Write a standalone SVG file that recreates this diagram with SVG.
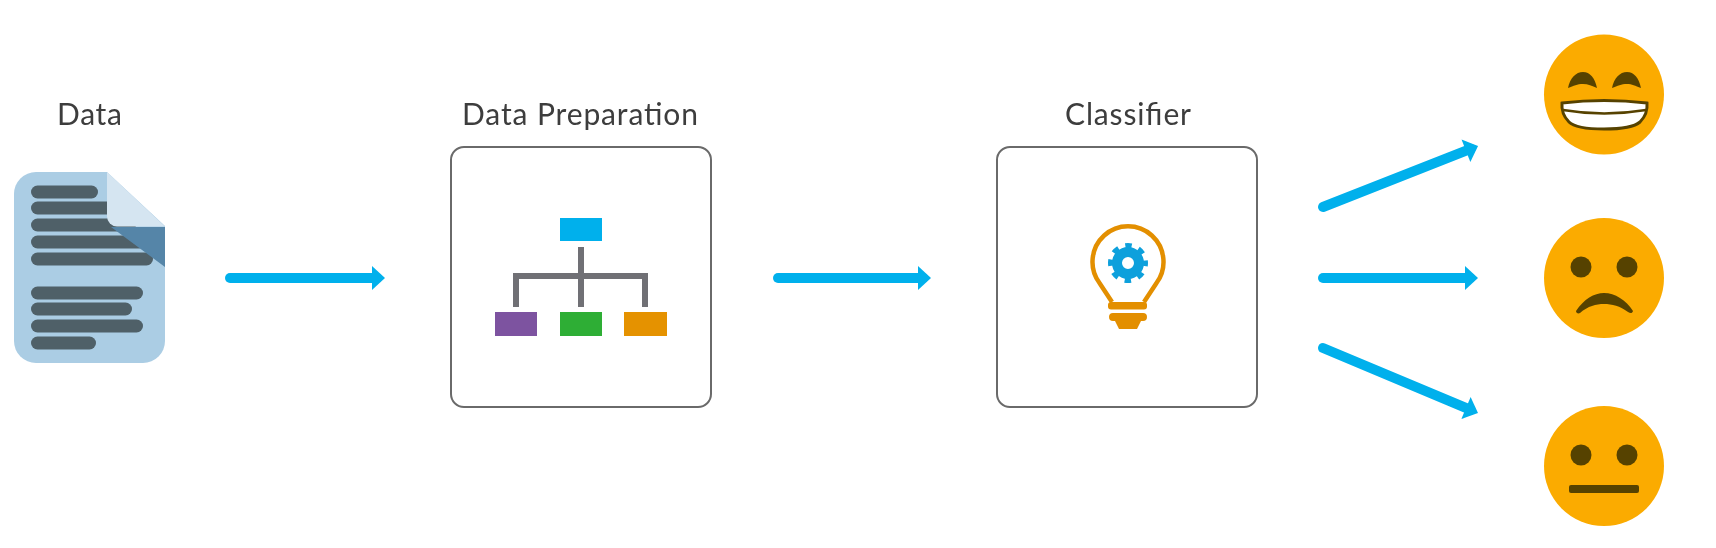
<svg xmlns="http://www.w3.org/2000/svg" width="1716" height="548" viewBox="0 0 1716 548">
<style>
.label{font-family:"Lato","Liberation Sans",sans-serif;font-size:30px;fill:#3d3d3d;text-anchor:middle}
.box{fill:#fff;stroke:#6a6a6a;stroke-width:2}
.line{fill:#4f6068}
.tree{stroke:#6f7074;stroke-width:6;fill:none}
.face{fill:#fbab00}
.feat{fill:#574300}
.conn{stroke:#00b0ec;stroke-width:10;stroke-linecap:round;fill:none;marker-end:url(#head)}
</style>
<defs>
<marker id="head" markerUnits="userSpaceOnUse" markerWidth="16" markerHeight="28" refX="5" refY="14" orient="auto" viewBox="0 0 16 28" overflow="visible"><polygon points="0,2 13,14 0,26" fill="#00b0ec"/></marker>
<filter id="soft" x="0" y="0" width="100%" height="100%"><feGaussianBlur stdDeviation="0.5"/></filter>
</defs>
<rect width="1716" height="548" fill="#fff"/>
<g filter="url(#soft)">
<g id="node-data">
<text class="label" x="89.500" y="125" textLength="65" lengthAdjust="spacing">Data</text>
<path d="M36,172H107L165,226V341a22,22 0 0 1-22,22H36a22,22 0 0 1-22-22V194a22,22 0 0 1 22-22Z" fill="#abcde4"/>
<rect class="line" x="31" y="185.500" width="67" height="13" rx="6.500"/>
<rect class="line" x="31" y="201.500" width="85" height="13" rx="6.500"/>
<rect class="line" x="31" y="218.500" width="105" height="13" rx="6.500"/>
<rect class="line" x="31" y="235.500" width="115" height="13" rx="6.500"/>
<rect class="line" x="31" y="252.500" width="122" height="13" rx="6.500"/>
<rect class="line" x="31" y="286.500" width="112" height="13" rx="6.500"/>
<rect class="line" x="31" y="302.500" width="101" height="13" rx="6.500"/>
<rect class="line" x="31" y="319.500" width="112" height="13" rx="6.500"/>
<rect class="line" x="31" y="336.500" width="65" height="13" rx="6.500"/>
<path d="M111,227H165V267Z" fill="#5585a8"/>
<path d="M107,172L165,226.500H117a10,10 0 0 1-10-10Z" fill="#d5e5f1"/>
</g>
<g id="node-preparation">
<text class="label" x="580" y="125" textLength="236" lengthAdjust="spacing">Data Preparation</text>
<rect class="box" x="451" y="147" width="260" height="260" rx="13"/>
<rect x="560" y="218" width="42" height="23" fill="#00b0ec"/>
<path class="tree" d="M581,247V307M516,307V276H645V307"/>
<rect x="495" y="312" width="42" height="24" fill="#7d52a0"/>
<rect x="560" y="312" width="42" height="24" fill="#2fae36"/>
<rect x="624" y="312" width="43" height="24" fill="#e59200"/>
</g>
<g id="node-classifier">
<text class="label" x="1128" y="125" textLength="126" lengthAdjust="spacing">Classifier</text>
<rect class="box" x="997" y="147" width="260" height="260" rx="13"/>
<path d="M1112,302L1099.500,283A35.500,35.500 0 1 1 1156.500,283L1144,302" fill="none" stroke="#e38f00" stroke-width="4.500"/>
<rect x="1108" y="302" width="39" height="7.500" rx="3" fill="#e38f00"/>
<path d="M1113,313H1143Q1147,313 1147,317Q1147,321 1143,321H1141L1137,329H1119L1115,321H1113Q1109,321 1109,317Q1109,313 1113,313Z" fill="#e38f00"/>
<path fill-rule="evenodd" fill="#0ea0dc" d="M1144,263a16,16 0 1 1-32,0a16,16 0 1 1 32,0ZM1134,263a6,6 0 1 0-12,0a6,6 0 1 0 12,0Z"/>
<circle cx="1128" cy="263" r="17.500" fill="none" stroke="#0ea0dc" stroke-width="5" stroke-dasharray="6.500 7.240" stroke-dashoffset="3.250"/>
</g>
<g id="node-happy">
<circle class="face" cx="1604" cy="94.500" r="60"/>
<path class="feat" d="M1568,88C1570,78 1576,72 1583,72C1590,72 1595,78 1597,88C1592,86 1588,84 1583,84C1577,84 1574,86 1568,88Z"/>
<path class="feat" d="M1612,88C1614,78 1620,72 1627,72C1634,72 1639,78 1641,88C1635,86 1632,84 1627,84C1621,84 1618,86 1612,88Z"/>
<path d="M1562,103Q1604,98 1647,103Q1648,114 1640,122Q1632,129 1604,129Q1576,129 1569,122Q1561,114 1562,103Z" fill="#fff" stroke="#574300" stroke-width="3"/>
<path d="M1563,110Q1604,117 1646,110" fill="none" stroke="#574300" stroke-width="2.500"/>
</g>
<g id="node-sad">
<circle class="face" cx="1604" cy="278" r="60"/>
<circle class="feat" cx="1581" cy="267" r="10.500"/>
<circle class="feat" cx="1627" cy="267" r="10.500"/>
<path class="feat" d="M1576,311C1584,299 1594,293 1604,293C1615,293 1626,300 1633,311C1632,314 1630,313 1628,312C1620,306 1612,304 1604,304C1596,304 1588,306 1580,313C1578,314 1576,313 1576,311Z"/>
</g>
<g id="node-neutral">
<circle class="face" cx="1604" cy="466" r="60"/>
<circle class="feat" cx="1581" cy="455" r="10.500"/>
<circle class="feat" cx="1627" cy="455" r="10.500"/>
<rect class="feat" x="1569" y="485" width="70" height="8" rx="2"/>
</g>
<g id="connectors">
<line class="conn" x1="230" y1="278" x2="377" y2="278"/>
<line class="conn" x1="778" y1="278" x2="923" y2="278"/>
<line class="conn" x1="1323" y1="207" x2="1470.600" y2="148.900"/>
<line class="conn" x1="1323" y1="278" x2="1470" y2="278"/>
<line class="conn" x1="1323" y1="348" x2="1470.600" y2="409.900"/>
</g>
</g>
</svg>
